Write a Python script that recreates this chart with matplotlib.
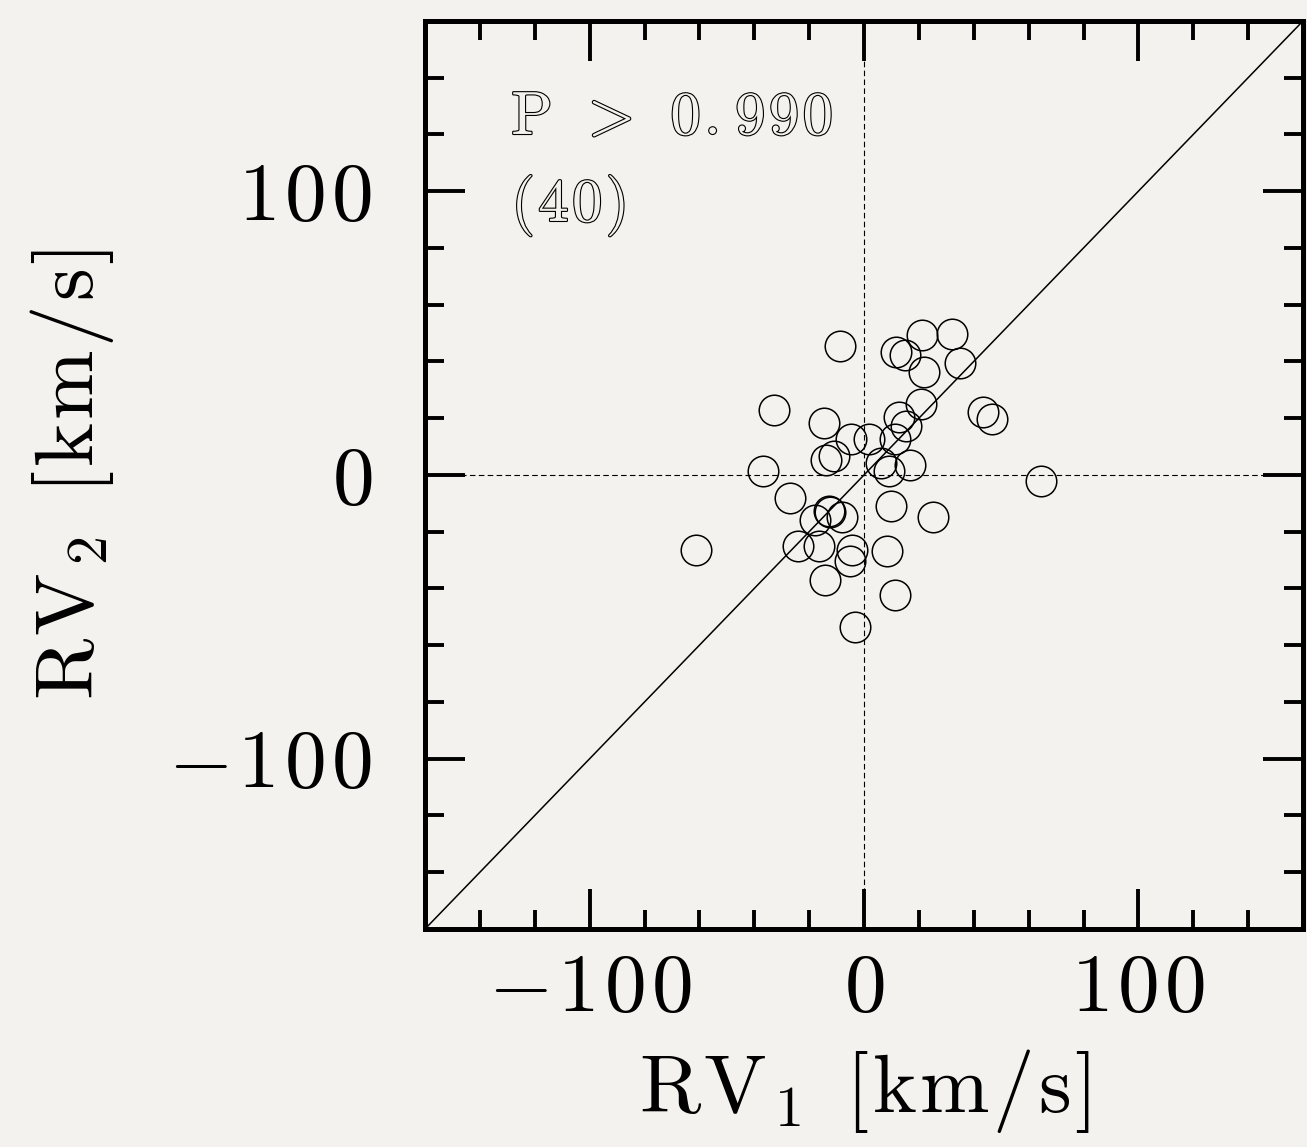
import numpy as np
import matplotlib.pyplot as plt
import matplotlib.patheffects as pe
from matplotlib.ticker import MultipleLocator, FuncFormatter

# radial velocities of the two components (km/s)
rv1 = [-8.8, 11.7, 15.1, 21.1, 32.0, 35.0, 21.7, 20.8, 12.6, 15.3,
       -33.0, -14.5, -4.6, 1.8, 11.2, -13.9, -10.9, 6.3, 9.1, 16.8,
       -37.0, 43.4, 46.7, 64.6, -26.9, -12.4, -12.9, -8.0, -17.9, 9.9,
       25.3, -61.1, -23.9, -16.3, -4.3, -5.2, 8.4, -14.2, 11.3, -3.4]
rv2 = [45.5, 43.4, 42.2, 49.2, 49.7, 39.6, 36.1, 24.9, 20.4, 17.1,
       22.9, 18.2, 12.7, 12.7, 12.6, 5.4, 6.5, 4.2, 1.3, 3.4,
       1.5, 22.3, 19.8, -2.2, -8.1, -13.1, -12.8, -14.7, -16.0, -10.8,
       -14.7, -26.4, -25.0, -25.0, -26.4, -30.3, -26.8, -37.1, -42.2, -53.7]

lim = [-160, 160]
prob_text = "P > 0.990"
count_text = "(%d)" % len(rv1)

bg = "#f4f2ee"
plt.rcParams["mathtext.fontset"] = "cm"
plt.rcParams["font.family"] = "serif"
plt.rcParams["font.serif"] = ["cmr10", "DejaVu Serif"]


def spaced(s, gap):
    # mathtext string with extra room between characters
    out = []
    for ch in s:
        if ch == " ":
            out.append(r"\ ")
        elif ch.isalpha():
            out.append(r"\mathrm{%s}" % ch)
        else:
            out.append(ch)
    return "$" + (r"\hspace{%g}" % gap).join(out) + "$"


def axis_label(sub):
    return (r"$\mathrm{R}\hspace{0.05}\mathrm{V}_{\hspace{0.08}%s}\hspace{0.5}"
            r"[\hspace{0.05}\mathrm{k}\hspace{0.05}\mathrm{m}\hspace{0.05}/"
            r"\hspace{0.05}\mathrm{s}\hspace{0.05}]$" % sub)


fig = plt.figure(figsize=(13.07, 11.47), dpi=100, facecolor=bg)
ax = fig.add_axes([0.3252, 0.1901, 0.6718, 0.7917], facecolor=bg)

# one-to-one line and zero lines
ax.plot(lim, lim, color="black", lw=1.1, zorder=2)
ax.axhline(0, color="black", lw=0.8, dashes=(5, 3), zorder=1)
ax.axvline(0, color="black", lw=0.8, dashes=(5, 3), zorder=1)

ax.plot(rv1, rv2, "o", ms=22, mfc="none", mec="black", mew=1.1, zorder=3)

ax.set_xlim(lim)
ax.set_ylim(lim)

ax.xaxis.set_major_locator(MultipleLocator(100))
ax.xaxis.set_minor_locator(MultipleLocator(20))
ax.yaxis.set_major_locator(MultipleLocator(100))
ax.yaxis.set_minor_locator(MultipleLocator(20))
fmt = FuncFormatter(lambda v, p: spaced("%d" % v, 0.07))
ax.xaxis.set_major_formatter(fmt)
ax.yaxis.set_major_formatter(fmt)

ax.tick_params(which="both", direction="in", top=True, right=True,
               width=2.8, color="black")
ax.tick_params(which="major", length=29, labelsize=60)
ax.tick_params(axis="x", which="major", pad=18)
ax.tick_params(axis="y", which="major", pad=38)
ax.tick_params(which="minor", length=14)
for s in ax.spines.values():
    s.set_linewidth(3.6)

ax.set_xlabel(axis_label("1"), fontsize=60, labelpad=14)
ax.set_ylabel(axis_label("2"), fontsize=60, labelpad=38)

# outlined annotation text
outline = [pe.withStroke(linewidth=1.6, foreground="black")]
ax.text(-128.6, 120, spaced(prob_text, 0.06), fontsize=44, color=bg,
        va="baseline", path_effects=outline)
ax.text(-128.6, 89.5, spaced(count_text, 0.06), fontsize=44, color=bg,
        va="baseline", path_effects=outline)

plt.savefig("out.png", dpi=100, facecolor=bg)
